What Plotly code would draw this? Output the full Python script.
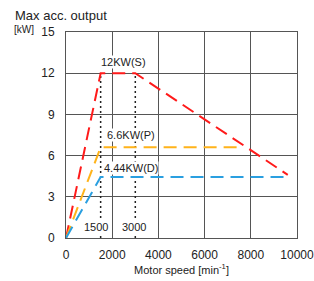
import plotly.graph_objects as go

# Data
red_x = [0, 1500, 3000, 9600]
red_y = [0, 12, 12, 4.6]
orange_x = [0, 1500, 7500]
orange_y = [0, 6.6, 6.6]
blue_x = [0, 1500, 9600]
blue_y = [0, 4.44, 4.44]
marker_speeds = [1500, 3000]
marker_top = 12
x_ticks = [0, 2000, 4000, 6000, 8000, 10000]
x_tick_labels = ["0", "2000", "4000", "6000", "8000", "10000"]
y_ticks = [0, 3, 6, 9, 12, 15]
labels = ["12KW(S)", "6.6KW(P)", "4.44KW(D)"]
label_pos = [(2500, 12.8), (2800, 7.5), (2820, 5.1)]

fig = go.Figure()
for s in marker_speeds:
    fig.add_trace(go.Scatter(x=[s, s], y=[0, marker_top], mode="lines",
                             line=dict(color="#222", width=1.5, dash="2px,3px"),
                             showlegend=False, hoverinfo="skip"))
fig.add_trace(go.Scatter(x=red_x, y=red_y, mode="lines",
                         line=dict(color="#ff1a1a", width=2, dash="13px,7px"), showlegend=False))
fig.add_trace(go.Scatter(x=orange_x, y=orange_y, mode="lines",
                         line=dict(color="#ffb31a", width=2, dash="13px,7px"), showlegend=False))
fig.add_trace(go.Scatter(x=blue_x, y=blue_y, mode="lines",
                         line=dict(color="#2a9fe0", width=2, dash="13px,7px"), showlegend=False))

for t, (lx, ly) in zip(labels, label_pos):
    fig.add_annotation(x=lx, y=ly, text=t, showarrow=False, bgcolor="white",
                       font=dict(size=11, color="#222"), borderpad=0)
for s, lx in zip(marker_speeds, [1300, 2940]):
    fig.add_annotation(x=lx, y=0.8, text=str(s), showarrow=False, bgcolor="white",
                       font=dict(size=11, color="#222"), borderpad=0)

fig.add_annotation(xref="paper", yref="paper", x=-0.229, y=1.0825, xanchor="left", yanchor="middle",
                   text="Max acc. output", showarrow=False, font=dict(size=13, color="#222"))
fig.add_annotation(xref="paper", yref="paper", x=-0.234, y=1.01, xanchor="left", yanchor="middle",
                   text="[kW]", showarrow=False, font=dict(size=10, color="#222"))

fig.update_layout(
    width=314, height=281,
    margin=dict(l=66, r=17, t=32, b=43),
    paper_bgcolor="white", plot_bgcolor="white",
    font=dict(family="Liberation Sans, Arial, sans-serif", color="#222"),
    xaxis=dict(range=[0, 10000], tickvals=x_ticks, ticktext=x_tick_labels,
               showgrid=True, gridcolor="#555", gridwidth=1,
               zeroline=False, showline=True, linecolor="#555", mirror=True, automargin=False,
               tickfont=dict(size=12), ticklabelstandoff=6, ticklabeloverflow="allow",
               title=dict(text="Motor speed [min<sup>-1</sup>]", font=dict(size=11), standoff=2)),
    yaxis=dict(range=[0, 15], tickvals=y_ticks, showgrid=True, gridcolor="#555", gridwidth=1,
               zeroline=False, showline=True, linecolor="#555", mirror=True, automargin=False,
               tickfont=dict(size=12), ticklabelstandoff=8),
)
fig.write_html("out.html", config={"displayModeBar": False},
               post_script="document.body.style.margin='0';document.body.style.overflow='hidden';")
